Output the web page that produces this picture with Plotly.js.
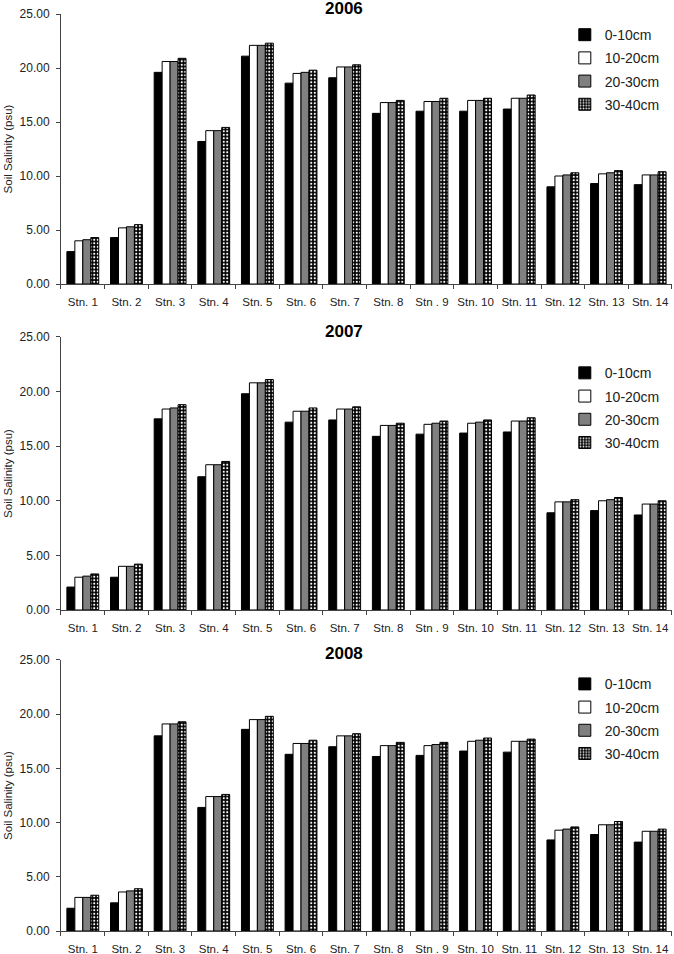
<!DOCTYPE html>
<html>
<head>
<meta charset="utf-8">
<script src="https://cdn.plot.ly/plotly-3.0.1.min.js"></script>
<style>
  body { margin: 0; background: #fff; }
  #chart { width: 674px; height: 954px; }
</style>
</head>
<body>
<div id="chart"></div>
<script>
// station labels as printed on the x axis
var stations = ["Stn. 1", "Stn. 2", "Stn. 3", "Stn. 4", "Stn. 5", "Stn. 6", "Stn. 7",
                "Stn. 8", "Stn . 9", "Stn. 10", "Stn. 11", "Stn. 12", "Stn. 13", "Stn. 14"];
var depths = ["0-10cm", "10-20cm", "20-30cm", "30-40cm"];
var years = ["2006", "2007", "2008"];

// soil salinity (psu)
var y2006_0_10  = [3.0, 4.3, 19.6, 13.2, 21.1, 18.6, 19.1, 15.8, 16.0, 16.0, 16.2, 9.0, 9.3, 9.2];
var y2006_10_20 = [4.0, 5.2, 20.6, 14.2, 22.1, 19.5, 20.1, 16.8, 16.9, 17.0, 17.2, 10.0, 10.2, 10.1];
var y2006_20_30 = [4.1, 5.3, 20.6, 14.2, 22.1, 19.6, 20.1, 16.8, 16.9, 17.0, 17.2, 10.1, 10.3, 10.1];
var y2006_30_40 = [4.3, 5.5, 20.9, 14.5, 22.3, 19.8, 20.3, 17.0, 17.2, 17.2, 17.5, 10.3, 10.5, 10.4];

var y2007_0_10  = [2.1, 3.0, 17.5, 12.2, 19.8, 17.2, 17.4, 15.9, 16.1, 16.2, 16.3, 8.9, 9.1, 8.7];
var y2007_10_20 = [3.0, 4.0, 18.4, 13.3, 20.8, 18.2, 18.4, 16.9, 17.0, 17.1, 17.3, 9.9, 10.0, 9.7];
var y2007_20_30 = [3.1, 4.0, 18.5, 13.3, 20.8, 18.2, 18.4, 16.9, 17.1, 17.2, 17.3, 9.9, 10.1, 9.7];
var y2007_30_40 = [3.3, 4.2, 18.8, 13.6, 21.1, 18.5, 18.6, 17.1, 17.3, 17.4, 17.6, 10.1, 10.3, 10.0];

var y2008_0_10  = [2.1, 2.6, 18.0, 11.4, 18.6, 16.3, 17.0, 16.1, 16.2, 16.6, 16.5, 8.4, 8.9, 8.2];
var y2008_10_20 = [3.1, 3.6, 19.1, 12.4, 19.5, 17.3, 18.0, 17.1, 17.1, 17.5, 17.5, 9.3, 9.8, 9.2];
var y2008_20_30 = [3.1, 3.7, 19.1, 12.4, 19.5, 17.3, 18.0, 17.1, 17.2, 17.6, 17.5, 9.4, 9.8, 9.2];
var y2008_30_40 = [3.3, 3.9, 19.3, 12.6, 19.8, 17.6, 18.2, 17.4, 17.4, 17.8, 17.7, 9.6, 10.1, 9.4];

var valuesByYear = [
  [y2006_0_10, y2006_10_20, y2006_20_30, y2006_30_40],
  [y2007_0_10, y2007_10_20, y2007_20_30, y2007_30_40],
  [y2008_0_10, y2008_10_20, y2008_20_30, y2008_30_40]
];

var FONT = "Arial, 'Liberation Sans', sans-serif";

function depthMarker(i) {
  var m = { line: { color: "#000", width: 1 } };
  if (i === 0) m.color = "#000";
  if (i === 1) m.color = "#fff";
  if (i === 2) m.color = "#808080";
  if (i === 3) {
    m.color = "#000";
    m.pattern = { shape: ".", fgcolor: "#fff", bgcolor: "#000", size: 3.5, solidity: 0.3 };
  }
  return m;
}

var data = [];
for (var p = 0; p < 3; p++) {
  var sfx = p === 0 ? "" : String(p + 1);
  for (var d = 0; d < 4; d++) {
    data.push({
      type: "bar",
      x: stations,
      y: valuesByYear[p][d],
      name: depths[d],
      xaxis: "x" + sfx,
      yaxis: "y" + sfx,
      legend: "legend" + sfx,
      legendgroup: depths[d] + p,
      marker: depthMarker(d),
      hoverinfo: "x+y+name"
    });
  }
}

// panel positions in paper fractions
var yDomains = [[0.7023, 0.9853], [0.3606, 0.6468], [0.0241, 0.3082]];
var xDomain = [0.0905, 0.997];
var titleY = [0.9916, 0.653, 0.3145];
var legendY = [0.98, 0.6255, 0.2995];

var layout = {
  width: 674,
  height: 954,
  margin: { l: 0, r: 0, t: 0, b: 0 },
  paper_bgcolor: "#fff",
  plot_bgcolor: "#fff",
  font: { family: FONT, size: 11, color: "#222" },
  barmode: "group",
  bargap: 0.27,
  bargroupgap: 0,
  annotations: []
};

for (var k = 0; k < 3; k++) {
  var s = k === 0 ? "" : String(k + 1);
  layout["xaxis" + s] = {
    domain: xDomain,
    anchor: "y" + s,
    type: "category",
    range: [-0.5, 13.5],
    tickson: "boundaries",
    tickangle: 0,
    ticks: "outside",
    ticklen: 4,
    tickcolor: "#444",
    ticklabelstandoff: 7,
    showline: true,
    linecolor: "#444",
    linewidth: 1,
    showgrid: false,
    zeroline: false,
    automargin: false,
    tickfont: { family: FONT, size: 11.5, color: "#222" }
  };
  layout["yaxis" + s] = {
    domain: yDomains[k],
    anchor: "x" + s,
    range: [0, 25],
    dtick: 5,
    tickformat: ".2f",
    ticks: "outside",
    ticklen: 4,
    tickcolor: "#444",
    ticklabelstandoff: 4,
    showline: true,
    linecolor: "#444",
    linewidth: 1,
    showgrid: false,
    zeroline: false,
    automargin: false,
    tickfont: { family: FONT, size: 12, color: "#222" },
    title: { text: "Soil Salinity (psu)", font: { family: FONT, size: 11.5, color: "#222" }, standoff: 4 }
  };
  layout["legend" + s] = {
    x: 0.838,
    y: legendY[k],
    xanchor: "left",
    yanchor: "top",
    bgcolor: "rgba(0,0,0,0)",
    traceorder: "grouped",
    tracegroupgap: 2,
    itemwidth: 30,
    font: { family: FONT, size: 14, color: "#222" }
  };
  layout.annotations.push({
    text: "<b>" + years[k] + "</b>",
    xref: "paper",
    yref: "paper",
    x: 0.51,
    y: titleY[k],
    xanchor: "center",
    yanchor: "middle",
    showarrow: false,
    font: { family: FONT, size: 17, color: "#000" }
  });
}

Plotly.newPlot("chart", data, layout, { displayModeBar: false, staticPlot: true });
</script>
</body>
</html>
